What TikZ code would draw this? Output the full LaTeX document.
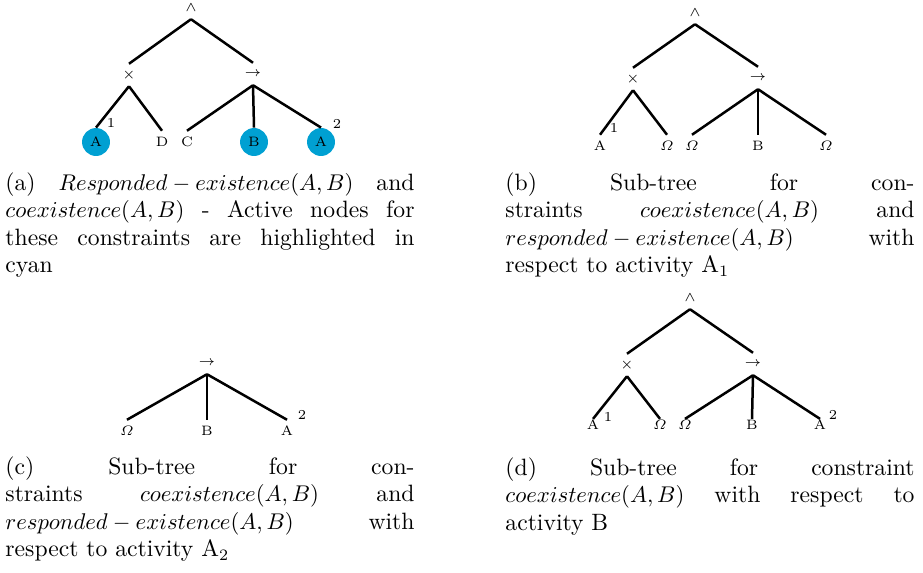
\documentclass[tikz,border=0pt]{standalone}
\usepackage{amsmath}
\usepackage{amssymb}
\usepackage{xcolor}
\usetikzlibrary{positioning}
\definecolor{activecyan}{RGB}{0,160,210}

\begin{document}
\begin{tikzpicture}[
    x=0.44pt, y=-0.44pt,
    treenode/.style={
        font=\fontsize{6}{7}\selectfont,
        inner sep=0pt,
        minimum height=9.5pt
    },
    activenode/.style={
        circle,
        fill=activecyan,
        font=\fontsize{6}{7}\selectfont,
        inner sep=0pt,
        minimum size=12.3pt
    },
    occurrence/.style={
        font=\fontsize{6}{7}\selectfont,
        inner sep=0pt
    },
    subcap/.style={
        anchor=north west,
        inner sep=0pt,
        text width=180pt,
        align=justify,
        font=\fontsize{10.4}{12.1}\selectfont
    },
    branchline/.style={line width=1.1pt}
]
\useasboundingbox (0,0) rectangle (923,572);

% (A) FULL TREE, ACTIVE NODES
\node[treenode] (aand) at (191,8) {$\wedge$};
\node[treenode] (axor) at (129,75) {$\times$};
\node[treenode] (aseq) at (253,74) {$\rightarrow$};
\node[activenode] (aA1) at (96,142) {A};
\node[treenode] (aD) at (162,142) {D};
\node[treenode] (aC) at (187,142) {C};
\node[activenode] (aB) at (254,142) {B};
\node[activenode] (aA2) at (321,142) {A};
\node[occurrence] (aone) at (111,123) {1};
\node[occurrence] (atwo) at (337,124) {2};

\draw[branchline] (aand.south) -- (axor.north);
\draw[branchline] (aand.south) -- (aseq.north);
\draw[branchline] (axor.south) -- (aA1.north);
\draw[branchline] (axor.south) -- (aD.north);
\draw[branchline] (aseq.south) -- (aC.north);
\draw[branchline] (aseq.south) -- (aB.north);
\draw[branchline] (aseq.south) -- (aA2.north);

% (B) SUB-TREE FOR A1
\node[treenode] (band) at (695,13) {$\wedge$};
\node[treenode] (bxor) at (633,79) {$\times$};
\node[treenode] (bseq) at (758,78) {$\rightarrow$};
\node[treenode] (bA) at (600,146) {A};
\node[treenode] (bom1) at (667,146) {$\varOmega$};
\node[treenode] (bom2) at (692,146) {$\varOmega$};
\node[treenode] (bB) at (758,146) {B};
\node[treenode] (bom3) at (826,146) {$\varOmega$};
\node[occurrence] (bone) at (614,128) {1};

\draw[branchline] (band.south) -- (bxor.north);
\draw[branchline] (band.south) -- (bseq.north);
\draw[branchline] (bxor.south) -- (bA.north);
\draw[branchline] (bxor.south) -- (bom1.north);
\draw[branchline] (bseq.south) -- (bom2.north);
\draw[branchline] (bseq.south) -- (bB.north);
\draw[branchline] (bseq.south) -- (bom3.north);

% (C) SUB-TREE FOR A2
\node[treenode] (cseq) at (207,363) {$\rightarrow$};
\node[treenode] (com) at (127,431) {$\varOmega$};
\node[treenode] (cB) at (207,431) {B};
\node[treenode] (cA) at (287,431) {A};
\node[occurrence] (ctwo) at (302,415) {2};

\draw[branchline] (cseq.south) -- (com.north);
\draw[branchline] (cseq.south) -- (cB.north);
\draw[branchline] (cseq.south) -- (cA.north);

% (D) SUB-TREE FOR B
\node[treenode] (dand) at (690,298) {$\wedge$};
\node[treenode] (dxor) at (627,365) {$\times$};
\node[treenode] (dseq) at (753,364) {$\rightarrow$};
\node[treenode, minimum height=5pt] (dA1) at (593,425) {A};
\node[treenode, minimum height=5pt] (dom1) at (660,425) {$\varOmega$};
\node[treenode, minimum height=5pt] (dom2) at (685,425) {$\varOmega$};
\node[treenode, minimum height=5pt] (dB) at (752,425) {B};
\node[treenode, minimum height=5pt] (dA2) at (820,425) {A};
\node[occurrence] (done) at (608,417) {1};
\node[occurrence] (dtwo) at (833,415) {2};

\draw[branchline] (dand.south) -- (dxor.north);
\draw[branchline] (dand.south) -- (dseq.north);
\draw[branchline] (dxor.south) -- (dA1.north);
\draw[branchline] (dxor.south) -- (dom1.north);
\draw[branchline] (dseq.south) -- (dom2.north);
\draw[branchline] (dseq.south) -- (dB.north);
\draw[branchline] (dseq.south) -- (dA2.north);

% CAPTIONS
\node[subcap] (capa) at (5,172)
{(a) \mbox{$Responded - existence(A,B)$} and\linebreak
\mbox{$coexistence(A,B)$} - Active nodes for\linebreak
these constraints are highlighted in\linebreak
cyan};

\node[subcap] (capb) at (505,172)
{(b) Sub-tree for con-\linebreak
straints \mbox{$coexistence(A,B)$} and\linebreak
\mbox{$responded - existence(A,B)$} with\linebreak
respect to activity A$_1$};

\node[subcap] (capc) at (5,456)
{(c) Sub-tree for con-\linebreak
straints \mbox{$coexistence(A,B)$} and\linebreak
\mbox{$responded - existence(A,B)$} with\linebreak
respect to activity A$_2$};

\node[subcap] (capd) at (505,457)
{(d) Sub-tree for constraint\linebreak
\mbox{$coexistence(A,B)$} with respect to\linebreak
activity B};

\end{tikzpicture}
\end{document}
